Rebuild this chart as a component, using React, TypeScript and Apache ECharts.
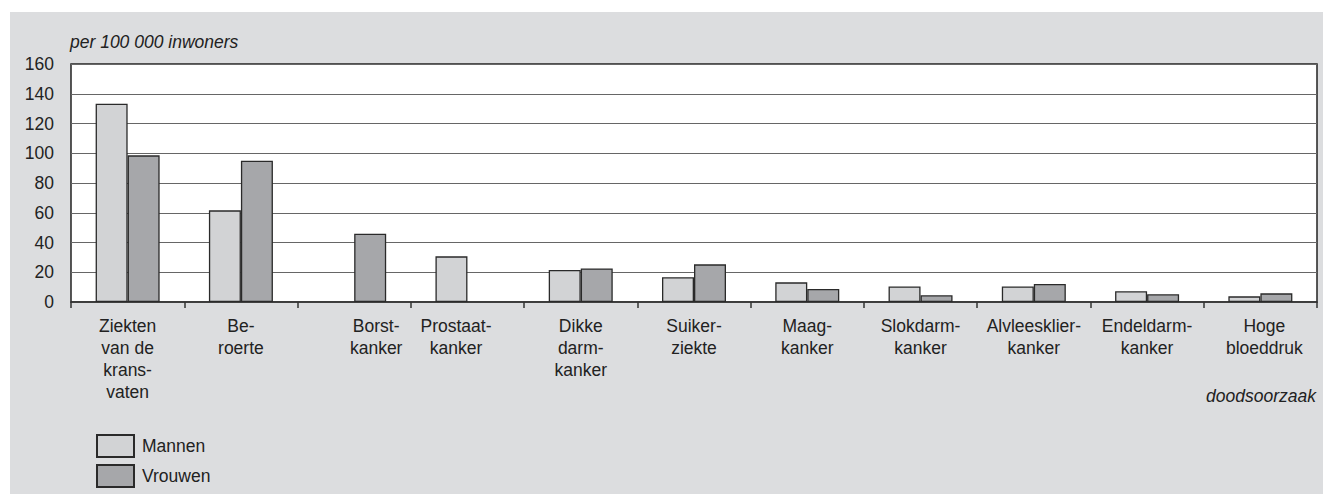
import React, { useEffect, useRef } from "react";
import * as echarts from "echarts";

const categories = [
  "Ziekten\nvan de\nkrans-\nvaten",
  "Be-\nroerte",
  "Borst-\nkanker",
  "Prostaat-\nkanker",
  "Dikke\ndarm-\nkanker",
  "Suiker-\nziekte",
  "Maag-\nkanker",
  "Slokdarm-\nkanker",
  "Alvleesklier-\nkanker",
  "Endeldarm-\nkanker",
  "Hoge\nbloeddruk",
];
const mannen = [133.3, 61.6, null, 30.7, 21.5, 16.6, 13.2, 10.5, 10.5, 7.2, 3.8];
const vrouwen = [98.6, 95, 45.9, null, 22.6, 25.3, 8.7, 4.5, 12.1, 5.2, 5.8];
const seriesNames = ["Mannen", "Vrouwen"];
const yTicks = { min: 0, max: 160, interval: 20 };
const yTitle = "per 100 000 inwoners";
const xTitle = "doodsoorzaak";

const labelShift: Record<number, number[]> = {
  2: [0, 0, 0, 44],
  3: [0, 23, 0, 0],
  10: [0, 0, 0, 8],
};

const FONT = "'Liberation Sans', Arial, sans-serif";
const FS = 17.5;

export default function App() {
  const ref = useRef<HTMLDivElement>(null);
  useEffect(() => {
    if (!ref.current) return;
    const chart = echarts.init(ref.current, undefined, { renderer: "svg" });
    const catData = categories.map((c, i) =>
      labelShift[i] ? { value: c, textStyle: { padding: labelShift[i] } } : c
    );
    const legendBase = {
      orient: "vertical",
      left: 96,
      padding: 0,
      itemWidth: 37,
      itemHeight: 22,
      icon: "rect",
      textStyle: { fontFamily: FONT, fontSize: FS, color: "#222", padding: [0, 0, 0, 3] },
    };
    chart.setOption({
      animation: false,
      textStyle: { fontFamily: FONT, color: "#222" },
      grid: {
        left: 71,
        right: 6,
        top: 64,
        bottom: 192,
        containLabel: false,
        outerBoundsMode: "none",
        show: true,
        backgroundColor: "#ffffff",
        borderColor: "#222",
        borderWidth: 1.5,
      },
      legend: [
        { ...legendBase, top: 434, data: [seriesNames[0]] },
        { ...legendBase, top: 464, data: [seriesNames[1]] },
      ],
      xAxis: {
        type: "category",
        data: catData,
        axisLine: { show: true, lineStyle: { color: "#333", width: 1.5 } },
        axisTick: { show: true, length: 6, lineStyle: { color: "#333", width: 1.5 } },
        axisLabel: {
          interval: 0,
          margin: 13,
          fontFamily: FONT,
          fontSize: FS,
          lineHeight: 22,
          color: "#222",
        },
        splitLine: { show: false },
      },
      yAxis: {
        type: "value",
        min: yTicks.min,
        max: yTicks.max,
        interval: yTicks.interval,
        axisLine: { show: false },
        axisTick: { show: false },
        axisLabel: { margin: 17, fontFamily: FONT, fontSize: FS, color: "#222" },
        splitLine: { show: true, lineStyle: { color: "#666", width: 1.2 } },
      },
      series: [
        {
          name: seriesNames[0],
          type: "bar",
          data: mannen,
          barWidth: 32,
          barGap: "0%",
          itemStyle: { color: "#d2d3d5", borderColor: "#2a2a2a", borderWidth: 1.3 },
        },
        {
          name: seriesNames[1],
          type: "bar",
          data: vrouwen,
          barWidth: 32,
          barGap: "0%",
          itemStyle: { color: "#a6a7aa", borderColor: "#2a2a2a", borderWidth: 1.3 },
        },
      ],
      graphic: [
        {
          type: "text",
          left: 70,
          top: 33,
          style: {
            text: yTitle,
            fontFamily: FONT,
            fontSize: FS,
            fontStyle: "italic",
            fill: "#222",
          },
        },
        {
          type: "text",
          right: 7,
          top: 387,
          style: {
            text: xTitle,
            fontFamily: FONT,
            fontSize: FS,
            fontStyle: "italic",
            fill: "#222",
          },
        },
      ],
    });
    return () => chart.dispose();
  }, []);
  return (
    <div style={{ position: "fixed", left: 0, top: 0, width: 1323, height: 494, background: "#fff" }}>
      <div
        style={{ position: "absolute", left: 10, top: 12, right: 0, bottom: 0, background: "#dcdddf" }}
      />
      <div ref={ref} style={{ position: "absolute", left: 0, top: 0, width: 1323, height: 494 }} />
    </div>
  );
}
